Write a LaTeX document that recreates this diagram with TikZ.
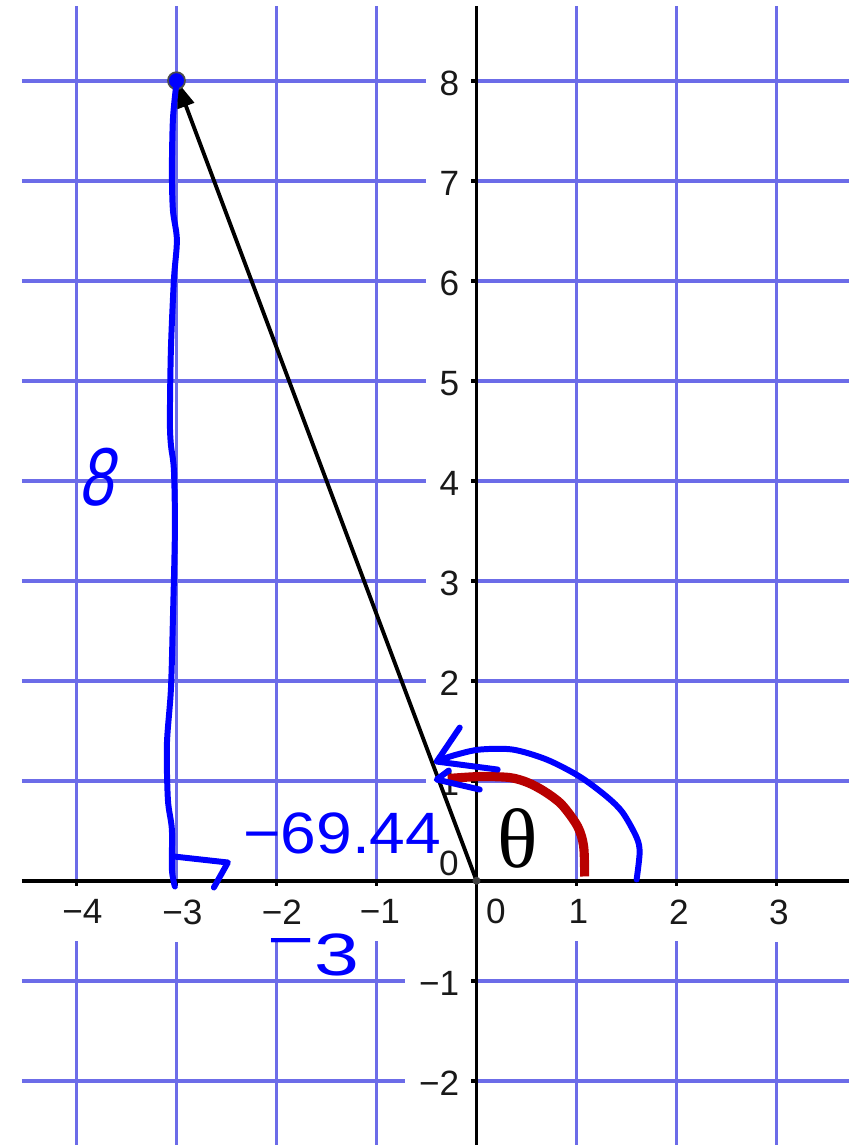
\documentclass[tikz,border=0pt]{standalone}
\usepackage{fontspec}
\setmainfont{Liberation Sans}
\newfontfamily\greekserif{Liberation Serif}
\usetikzlibrary{arrows.meta}
\definecolor{gridblue}{RGB}{108,108,232}
\definecolor{inkblue}{RGB}{0,0,255}
\definecolor{inkred}{RGB}{185,0,0}
\definecolor{labgray}{RGB}{25,25,25}
\begin{document}
\begin{tikzpicture}[x=1cm,y=1cm,
  gridline/.style={gridblue, line width=1.05pt},
  axisline/.style={black, line width=1.05pt},
  ticklab/.style={text=labgray, font=\fontsize{10}{12}\selectfont},
  xlab/.style={ticklab, fill=white, anchor=north, inner ysep=0.17cm, inner xsep=0.14cm},
  ylab/.style={ticklab, fill=white, anchor=east, inner ysep=0.06cm, inner xsep=0.14cm},
  vec/.style={black, line width=1.1pt, -{Triangle[length=0.27cm,width=0.17cm]}},
  bluept/.style={circle, fill=inkblue, draw=black!70, line width=0.5pt, minimum size=0.17cm, inner sep=0pt},
  originpt/.style={circle, fill=black!75, minimum size=0.08cm, inner sep=0pt},
  ink/.style={inkblue, line width=1.7pt, line cap=round, line join=round},
  redink/.style={inkred, line width=2.6pt, line cap=butt, line join=round},
  inktext/.style={text=inkblue, inner sep=0pt},
]
\useasboundingbox (-4.765,-2.643) rectangle (3.725,8.807);
\fill[white] (-4.765,-2.643) rectangle (3.725,8.807);

% grid
\foreach \x in {-4,...,3} \draw[gridline] (\x,-2.643) -- (\x,8.747);
\foreach \y in {-2,...,8} \draw[gridline] (-4.545,\y) -- (3.725,\y);

% tick labels
\foreach \v/\t [count=\i] in {-3.94/−4,-2.94/−3,-1.945/−2,-0.965/−1,1.02/1,2.025/2,3.025/3}
  \node[xlab] (xl\i) at (\v,-0.013) {\t};
\foreach \v/\t [count=\i] in {-2/−2,-1/−1,1/1,2/2,3/3,4/4,5/5,6/6,7/7,8/8}
  \node[ylab] (yl\i) at (-0.025,\v-0.03) {\t};
\node[ticklab, inner sep=0pt] (y0) at (-0.275,0.17) {0};
\node[ticklab, inner sep=0pt] (x0) at (0.195,-0.308) {0};

% axes
\draw[axisline] (-4.545,0) -- (3.725,0);
\draw[axisline] (0,-2.643) -- (0,8.747);
\foreach \x in {-4,...,3} \draw[axisline] (\x,0) -- (\x,-0.05);
\foreach \y in {-2,...,8} \draw[axisline] (0,\y) -- (-0.055,\y);

% vector
\coordinate (O) at (0,0);
\coordinate (P) at (-3,8);
\draw[vec] (O) -- (P);
\node[bluept] (Pdot) at (P) {};
\node[originpt] (Odot) at (O) {};

% handwriting (pixel coordinates)
\begin{scope}[shift={(-4.765,8.807)}, x=0.01cm, y=-0.01cm]
  \draw[ink] plot[smooth] coordinates {(176,88) (173,120) (172,170) (173,210) (177,240) (174,280) (171,350) (170,420) (171,445) (174,470) (175,530) (173,620) (171,690) (167,745) (168,800) (172,830) (172,870) (175,887)};
  \draw[ink] (174,857) -- (228,863) -- (214,888);
  \draw[redink] plot[smooth] coordinates {(585,877) (584,847) (578,827) (562,805) (545,792) (528,783) (510,778) (480,777) (448,779)};
  \draw[ink] plot[smooth] coordinates {(637,880) (640,853) (637,838) (623,813) (607,797) (580,777) (547,760) (513,750) (480,750) (457,755) (438,761)};
  \draw[ink] (460,728) -- (437,762) -- (498,770);
  \draw[ink] (449,771) -- (437,780) -- (480,790);
  \node[inktext, font=\fontsize{16.6}{18}\selectfont, xscale=1.1] (ang) at (342.5,834) {−69.44};
  \node[inktext, font=\fontsize{23.4}{26}\selectfont, xslant=0.2, xscale=0.75] (len) at (101.5,477.5) {8};
  \node[inktext, font=\fontsize{17}{20}\selectfont, xscale=1.35] (run) at (314,955) {\raisebox{0.25em}{−}3};
  \node[inner sep=0pt, font=\greekserif\fontsize{24}{28}\selectfont] (theta) at (518.5,839) {θ};
\end{scope}
\end{tikzpicture}
\end{document}
